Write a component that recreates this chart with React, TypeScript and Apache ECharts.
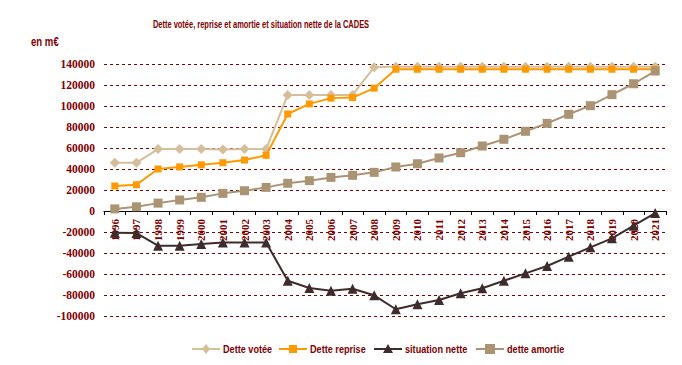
import React, { useEffect, useRef } from "react";
import * as echarts from "echarts";

const years = ["1996","1997","1998","1999","2000","2001","2002","2003","2004","2005","2006","2007","2008","2009","2010","2011","2012","2013","2014","2015","2016","2017","2018","2019","2020","2021"];
const detteVotee = [46000,46000,59000,59000,59000,58500,59000,59000,110500,110500,110500,110500,137000,137500,137500,137500,137500,137500,137500,137500,137500,137500,137500,137500,137500,137500];
const detteReprise = [23800,25000,40000,42000,44000,46000,48500,53000,92400,102000,107500,108000,117000,135000,135000,135000,135000,135000,135000,135000,135000,135000,135000,135000,135000,135000];
const situationNette = [-20600,-21000,-33000,-33000,-31500,-30000,-30000,-30000,-66400,-73300,-75900,-74000,-80300,-93600,-88900,-84800,-78400,-73600,-66400,-59400,-52400,-43500,-34600,-26000,-14000,-2000];
const detteAmortie = [2000,4000,7500,10500,13000,16800,19300,22500,26400,28900,32000,34000,36800,41900,45000,50500,55500,61900,68300,75900,83500,92100,100300,110800,121200,133300];

const seriesNames = ["Dette votée", "Dette reprise", "situation nette", "dette amortie"];
const seriesColors = ["#D6BE9A", "#FF9900", "#3E2C2C", "#AA9474"];

const DARK_RED = "#800000";
const SANS = "'Liberation Sans', Arial, sans-serif";
const SERIF = "'Liberation Serif', 'Times New Roman', serif";
const NARROW = 0.83;

function legendIcon(kind: string, cx: number, cy: number, color: string): any {
  if (kind === "diamond") {
    return { type: "polygon", shape: { points: [[cx, cy - 5], [cx + 4, cy], [cx, cy + 5], [cx - 4, cy]] }, style: { fill: color } };
  }
  if (kind === "triangle") {
    return { type: "polygon", shape: { points: [[cx, cy - 5], [cx + 5, cy + 4], [cx - 5, cy + 4]] }, style: { fill: color } };
  }
  if (kind === "bigrect") {
    return { type: "rect", shape: { x: cx - 5, y: cy - 5, width: 10, height: 10 }, style: { fill: color } };
  }
  return { type: "rect", shape: { x: cx - 4, y: cy - 4, width: 8, height: 8 }, style: { fill: color } };
}

export default function App() {
  const ref = useRef<HTMLDivElement>(null);
  useEffect(() => {
    if (!ref.current) return;
    const chart = echarts.init(ref.current, null, { renderer: "svg" });

    const legendX = [192, 279, 374, 476];
    const kinds = ["diamond", "rect", "triangle", "bigrect"];
    const legendY = 349;
    const legendEls: any[] = [];
    seriesNames.forEach((name, i) => {
      const x0 = legendX[i];
      legendEls.push({ type: "line", shape: { x1: x0, y1: legendY, x2: x0 + 28, y2: legendY }, style: { stroke: seriesColors[i], lineWidth: 2 } });
      legendEls.push(legendIcon(kinds[i], x0 + 14, legendY, seriesColors[i]));
      legendEls.push({
        type: "text",
        x: x0 + 31,
        y: legendY,
        scaleX: NARROW,
        style: { text: name, fill: DARK_RED, font: `bold 11px ${SANS}`, textVerticalAlign: "middle", textAlign: "left" },
      });
    });

    chart.setOption({
      animation: false,
      backgroundColor: "#ffffff",
      graphic: [
        {
          type: "text",
          x: 261,
          y: 24,
          scaleX: 0.68,
          style: {
            text: "Dette votée, reprise et amortie et situation nette de la CADES",
            fill: DARK_RED,
            font: `bold 11px ${SANS}`,
            textAlign: "center",
            textVerticalAlign: "middle",
          },
        },
        {
          type: "text",
          x: 31,
          y: 42,
          scaleX: 0.8,
          style: { text: "en m€", fill: DARK_RED, font: `bold 12px ${SANS}`, textAlign: "left", textVerticalAlign: "middle" },
        },
        ...legendEls,
      ],
      grid: { left: 104, right: 16, top: 64, bottom: 49, containLabel: false },
      xAxis: {
        type: "category",
        data: years,
        boundaryGap: true,
        position: "bottom",
        offset: -105,
        axisLine: { onZero: false, lineStyle: { color: "#000000", width: 1 } },
        axisTick: { show: true, alignWithLabel: false, length: 4, lineStyle: { color: "#000000" } },
        axisLabel: {
          rotate: 90,
          margin: 8,
          interval: 0,
          fontFamily: SERIF,
          fontWeight: "bold",
          fontSize: 11,
          color: DARK_RED,
        },
        splitLine: { show: false },
      },
      yAxis: {
        type: "value",
        min: -100000,
        max: 140000,
        interval: 20000,
        axisLine: { show: false },
        axisTick: { show: false },
        axisLabel: {
          margin: 9,
          fontFamily: SERIF,
          fontWeight: "bold",
          fontSize: 11.5,
          color: DARK_RED,
          formatter: (v: number) => String(v),
        },
        splitLine: { show: true, lineStyle: { color: DARK_RED, type: [3, 3], width: 1 } },
      },
      series: [
        {
          name: seriesNames[0],
          type: "line",
          data: detteVotee,
          symbol: "diamond",
          symbolSize: 10,
          lineStyle: { width: 2, color: seriesColors[0] },
          itemStyle: { color: seriesColors[0] },
          z: 2,
        },
        {
          name: seriesNames[1],
          type: "line",
          data: detteReprise,
          symbol: "rect",
          symbolSize: 7,
          lineStyle: { width: 2, color: seriesColors[1] },
          itemStyle: { color: seriesColors[1] },
          z: 3,
        },
        {
          name: seriesNames[2],
          type: "line",
          data: situationNette,
          symbol: "triangle",
          symbolSize: 10,
          lineStyle: { width: 2, color: seriesColors[2] },
          itemStyle: { color: seriesColors[2] },
          z: 4,
        },
        {
          name: seriesNames[3],
          type: "line",
          data: detteAmortie,
          symbol: "rect",
          symbolSize: 9,
          lineStyle: { width: 2, color: seriesColors[3] },
          itemStyle: { color: seriesColors[3] },
          z: 5,
        },
      ],
    });
    return () => chart.dispose();
  }, []);
  return <div ref={ref} style={{ width: 682, height: 365, position: "absolute", left: 0, top: 0 }} />;
}
